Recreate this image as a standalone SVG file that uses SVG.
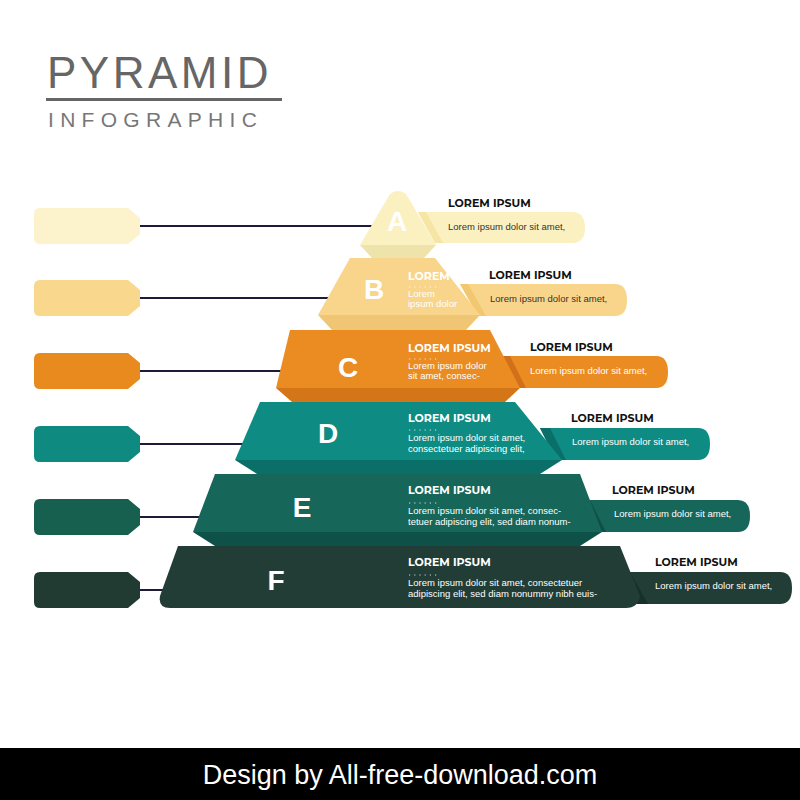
<svg xmlns="http://www.w3.org/2000/svg" width="800" height="800" viewBox="0 0 800 800">
<style>
.h{font-family:"Montserrat","Liberation Sans",sans-serif;font-weight:bold;font-size:11px;fill:#111}
.p{font-family:"Liberation Sans",sans-serif;font-size:9.5px}
.w{fill:#fff}
.L{font-family:"Liberation Sans",sans-serif;font-weight:bold;font-size:28px;fill:#fff;text-anchor:middle}
.ln{stroke:#1d1b3a;stroke-width:2}
.dt{stroke:#fff;stroke-width:1.2;stroke-dasharray:1.2 4;opacity:0.8}
</style>
<rect width="800" height="800" fill="#fff"/>
<g id="title">
<text x="47" y="88" font-family="Liberation Sans,sans-serif" font-size="44" fill="#666" letter-spacing="3.5">PYRAMID</text>
<rect x="46" y="98" width="236" height="3" fill="#666"/>
<text x="48" y="127" font-family="Liberation Sans,sans-serif" font-size="21" fill="#777" letter-spacing="6.3">INFOGRAPHIC</text>
</g>
<g id="connectors">
<line class="ln" x1="140" y1="226" x2="375" y2="226"/>
<line class="ln" x1="140" y1="298" x2="335" y2="298"/>
<line class="ln" x1="140" y1="371" x2="285" y2="371"/>
<line class="ln" x1="140" y1="444" x2="245" y2="444"/>
<line class="ln" x1="140" y1="517" x2="205" y2="517"/>
<line class="ln" x1="140" y1="590" x2="165" y2="590"/>
</g>
<defs>
<path id="tag" d="M40 0 H128 L140 10 V26 L128 36 H40 Q34 36 34 30 V6 Q34 0 40 0 Z"/>
</defs>
<g id="tagA"><use href="#tag" y="208" fill="#FCF2CB"/></g>
<g id="tagB"><use href="#tag" y="280" fill="#F9D88E"/></g>
<g id="tagC"><use href="#tag" y="353" fill="#E88A1E"/></g>
<g id="tagD"><use href="#tag" y="426" fill="#0E8A80"/></g>
<g id="tagE"><use href="#tag" y="499" fill="#17604F"/></g>
<g id="tagF"><use href="#tag" y="572" fill="#213B33"/></g>

<g id="tierF">
<path d="M620 572 H780 Q792 572 792 588 Q792 604 780 604 H636 Z" fill="#223D36"/>
<path d="M620 572 L636 604 L648 604 L630 572 Z" fill="#17302a"/>
<path d="M178 546 H620 L640 596 Q638 608 626 608 H170 Q158 608 160 596 Z" fill="#223D36"/>
<text class="L" x="276" y="590">F</text>
<text class="h w" x="408" y="566">LOREM IPSUM</text>
<line class="dt" x1="409" y1="575" x2="440" y2="575"/>
<text class="p w" x="408" y="586">Lorem ipsum dolor sit amet, consectetuer</text>
<text class="p w" x="408" y="597">adipiscing elit, sed diam nonummy nibh euis-</text>
<text class="h" x="655" y="566">LOREM IPSUM</text>
<text class="p" x="655" y="589" fill="#fff">Lorem ipsum dolor sit amet,</text>
</g>
<g id="tierE">
<path d="M580 500 H738 Q750 500 750 516 Q750 532 738 532 H596 Z" fill="#17665A"/>
<path d="M580 500 L596 532 L606 532 L590 500 Z" fill="#0f4f45"/>
<path d="M193 532 L215 546 H580 L602 532 Z" fill="#0E5148"/>
<path d="M215 474 H580 L602 532 H193 Z" fill="#17665A"/>
<text class="L" x="302" y="517">E</text>
<text class="h w" x="408" y="494">LOREM IPSUM</text>
<line class="dt" x1="409" y1="503" x2="440" y2="503"/>
<text class="p w" x="408" y="514">Lorem ipsum dolor sit amet, consec-</text>
<text class="p w" x="408" y="525">tetuer adipiscing elit, sed diam nonum-</text>
<text class="h" x="612" y="494">LOREM IPSUM</text>
<text class="p" x="614" y="517" fill="#fff">Lorem ipsum dolor sit amet,</text>
</g>
<g id="tierD">
<path d="M540 428 H698 Q710 428 710 444 Q710 460 698 460 H556 Z" fill="#0E8C84"/>
<path d="M540 428 L556 460 L566 460 L550 428 Z" fill="#0a6f68"/>
<path d="M235 460 L257 474 H540 L562 460 Z" fill="#0B6F69"/>
<path d="M260 402 H515 L562 460 H235 Z" fill="#0E8C84"/>
<text class="L" x="328" y="443">D</text>
<text class="h w" x="408" y="422">LOREM IPSUM</text>
<line class="dt" x1="409" y1="430" x2="440" y2="430"/>
<text class="p w" x="408" y="441">Lorem ipsum dolor sit amet,</text>
<text class="p w" x="408" y="452">consectetuer adipiscing elit,</text>
<text class="h" x="571" y="422">LOREM IPSUM</text>
<text class="p" x="572" y="445" fill="#fff">Lorem ipsum dolor sit amet,</text>
</g>
<g id="tierC">
<path d="M500 356 H656 Q668 356 668 372 Q668 388 656 388 H516 Z" fill="#EA8C22"/>
<path d="M500 356 L516 388 L526 388 L510 356 Z" fill="#d0701a"/>
<path d="M276 388 L292 402 H505 L520 388 Z" fill="#D47518"/>
<path d="M290 330 H490 L520 388 H276 Z" fill="#EA8C22"/>
<text class="L" x="348" y="377">C</text>
<text class="h w" x="408" y="352">LOREM IPSUM</text>
<line class="dt" x1="409" y1="359" x2="440" y2="359"/>
<text class="p w" x="408" y="369">Lorem ipsum dolor</text>
<text class="p w" x="408" y="379">sit amet, consec-</text>
<text class="h" x="530" y="351">LOREM IPSUM</text>
<text class="p" x="530" y="374" fill="#fff">Lorem ipsum dolor sit amet,</text>
</g>
<g id="tierB">
<path d="M460 284 H615 Q627 284 627 300 Q627 316 615 316 H478 Z" fill="#F8D58A"/>
<path d="M460 284 L478 316 L486 316 L468 284 Z" fill="#f1c76f"/>
<path d="M318 315 L332 330 H466 L480 315 Z" fill="#F0C675"/>
<path d="M350 258 H435 L480 315 H318 Z" fill="#F8D58A"/>
<text class="L" x="374" y="299">B</text>
<text class="h w" x="408" y="280">LOREM</text>
<line class="dt" x1="409" y1="287" x2="440" y2="287"/>
<text class="p w" x="408" y="297">Lorem</text>
<text class="p w" x="408" y="307">ipsum dolor</text>
<text class="h" x="489" y="279">LOREM IPSUM</text>
<text class="p" x="490" y="302" fill="#333">Lorem ipsum dolor sit amet,</text>
</g>
<g id="tierA">
<path d="M418 212 H572 Q585 212 585 228 Q585 243 572 243 H435 Z" fill="#FBF0C0"/>
<path d="M418 212 L435 243 L443 243 L426 212 Z" fill="#f6e5a4"/>
<path d="M360 245 L372 258 H424 L436 245 Z" fill="#EFE3AC"/>
<path d="M390 194 Q398 188 406 194 L436 245 H360 Z" fill="#FBF0C0"/>
<text class="L" x="397" y="231">A</text>
<text class="h" x="448" y="207">LOREM IPSUM</text>
<text class="p" x="448" y="230" fill="#333">Lorem ipsum dolor sit amet,</text>
</g>
<g id="footer">
<rect x="0" y="748" width="800" height="52" fill="#000"/>
<text x="400" y="784" text-anchor="middle" font-family="Liberation Sans,sans-serif" font-size="27" fill="#fff">Design by All-free-download.com</text>
</g>
</svg>
